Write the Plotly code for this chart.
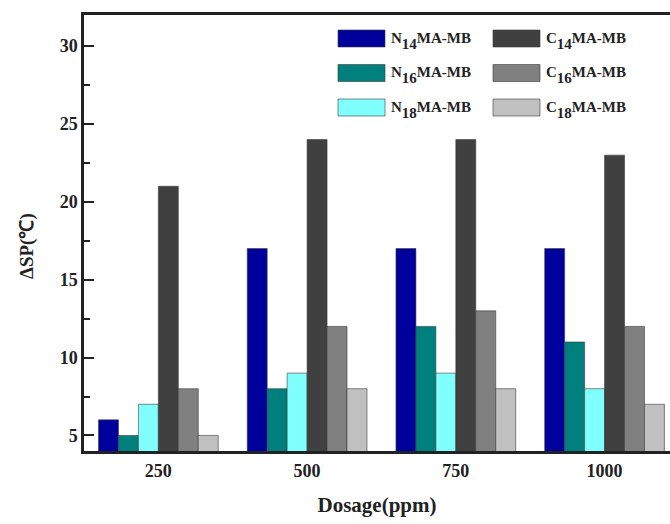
import plotly.graph_objects as go

dosages = ["250", "500", "750", "1000"]
series_names = ["N<sub>14</sub>MA-MB", "N<sub>16</sub>MA-MB", "N<sub>18</sub>MA-MB",
                "C<sub>14</sub>MA-MB", "C<sub>16</sub>MA-MB", "C<sub>18</sub>MA-MB"]
SUB = "font-size:15px;baseline-shift:-3px"
legend_labels = [f"N<sub><span style='{SUB}'>14</span></sub>MA-MB",
                 f"N<sub><span style='{SUB}'>16</span></sub>MA-MB",
                 f"N<sub><span style='{SUB}'>18</span></sub>MA-MB",
                 f"C<sub><span style='{SUB}'>14</span></sub>MA-MB",
                 f"C<sub><span style='{SUB}'>16</span></sub>MA-MB",
                 f"C<sub><span style='{SUB}'>18</span></sub>MA-MB"]
n14 = [6, 17, 17, 17]
n16 = [5, 8, 12, 11]
n18 = [7, 9, 9, 8]
c14 = [21, 24, 24, 23]
c16 = [8, 12, 13, 12]
c18 = [5, 8, 8, 7]
series_values = [n14, n16, n18, c14, c16, c18]
colors = ["#00009C", "#007F7F", "#80FFFF", "#404040", "#808080", "#C0C0C0"]

W, H = 670, 524
L, R, T, B = 84, 0, 15, 73
PW, PH = W - L - R, H - T - B
FONT = "Liberation Serif"

fig = go.Figure()
for name, vals, col in zip(series_names, series_values, colors):
    fig.add_trace(go.Bar(x=dosages, y=vals, name=name, marker_color=col,
                         marker_line=dict(color="#3a3a3a", width=0.6),
                         showlegend=False))

def px2paper(x, y):
    return (x - L) / PW, (H - B - y) / PH

# manual legend (2 columns x 3 rows)
legend_order = [0, 3, 1, 4, 2, 5]
col_x = [338, 493]
row_y = [38.5, 73, 107.5]
bw, bh = 47, 17
for k, idx in enumerate(legend_order):
    r, c = divmod(k, 2)
    x0, y0 = col_x[c], row_y[r] - bh / 2
    px0, py0 = px2paper(x0, y0 + bh)
    px1, py1 = px2paper(x0 + bw, y0)
    fig.add_shape(type="rect", xref="paper", yref="paper", x0=px0, y0=py0, x1=px1, y1=py1,
                  fillcolor=colors[idx], line=dict(color="#3a3a3a", width=0.6))
    tx, ty = px2paper(x0 + bw + 4, row_y[r] + 2)
    fig.add_annotation(xref="paper", yref="paper", x=tx, y=ty, text=legend_labels[idx],
                       showarrow=False, xanchor="left", yanchor="middle",
                       font=dict(family=FONT, size=15, color="#222", weight="bold"))

# y-axis title as annotation for exact placement
yx, yy = px2paper(27, 246)
fig.add_annotation(xref="paper", yref="paper", x=yx, y=yy, text="ΔSP(℃)", textangle=-90,
                   showarrow=False, xanchor="center", yanchor="middle",
                   font=dict(family=FONT, size=19, color="#222", weight="bold"))

fig.update_layout(
    width=W, height=H,
    margin=dict(l=L, r=R, t=T, b=B),
    paper_bgcolor="white", plot_bgcolor="white",
    barmode="group", bargap=0.195, bargroupgap=0,
    font=dict(family=FONT, size=16, color="#222", weight="bold"),
)
fig.update_xaxes(
    type="category", range=[-0.5, 3.44],
    showline=True, linecolor="#222", linewidth=2.5, mirror=True,
    ticks="", showgrid=False, zeroline=False,
    tickfont=dict(family=FONT, size=18, weight="bold"),
    ticklabelstandoff=2,
    title=dict(text="Dosage(ppm)", font=dict(family=FONT, size=21, weight="bold"), standoff=17),
)
fig.update_yaxes(
    range=[4, 32], tickvals=[5, 10, 15, 20, 25, 30],
    showline=True, linecolor="#222", linewidth=2.5, mirror=False,
    ticks="inside", ticklen=10, tickwidth=2, tickcolor="#222",
    minor=dict(ticks="inside", ticklen=6, tickwidth=1.5, tickcolor="#222", tickvals=[7.5, 12.5, 17.5, 22.5, 27.5]),
    showgrid=False, zeroline=False,
    tickfont=dict(family=FONT, size=18, weight="bold"),
    ticklabelstandoff=0,
)

fig.write_html("out.html")
